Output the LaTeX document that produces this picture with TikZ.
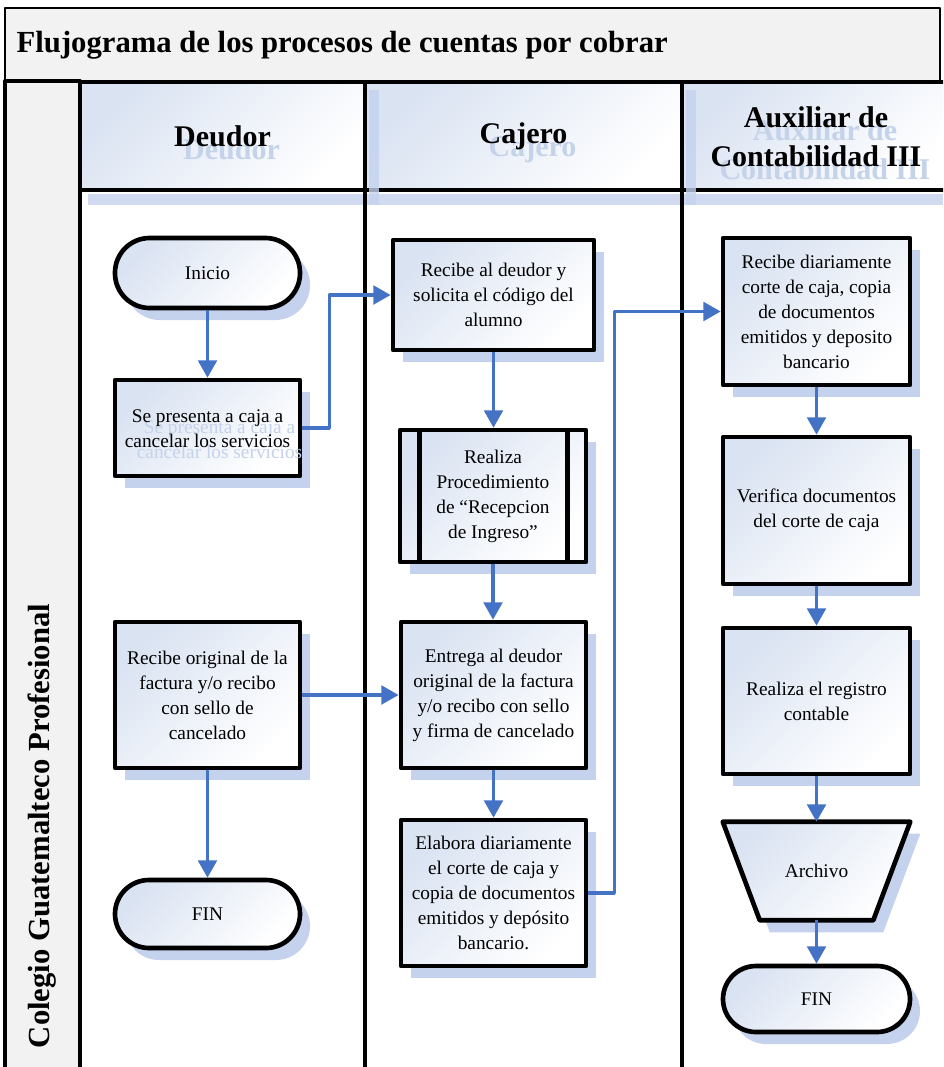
\documentclass[tikz,border=0pt]{standalone}
\usepackage{fontspec}
\setmainfont{Liberation Serif}
\usetikzlibrary{arrows.meta,shapes.geometric,shadows,calc}
\definecolor{flowblue}{RGB}{68,114,196}
\definecolor{tint}{RGB}{218,227,242}
\definecolor{shadowblue}{RGB}{196,210,238}
\definecolor{ghost}{RGB}{196,210,234}
\definecolor{panelgray}{RGB}{242,242,242}
\begin{document}
\begin{tikzpicture}[x=0.75pt,y=-0.75pt,line join=round,
  txt/.style={font=\fontsize{14.5}{18.75}\selectfont,align=center,text=black},
  box/.style={draw=black,line width=3.5pt,top color=tint,bottom color=white,shading angle=45,
    drop shadow={shadow xshift=7.5pt,shadow yshift=-9pt,fill=shadowblue,opacity=1},
    inner sep=0pt,txt},
  term/.style={box,rounded corners=#1},
  flow/.style={draw=flowblue,line width=2.5pt,-{Triangle[width=14pt,length=13pt]}},
  head/.style={draw=black,line width=3pt,top color=tint,bottom color=white,shading angle=45,inner sep=0pt},
  headtxt/.style={font=\fontsize{22.5}{29}\selectfont\bfseries,align=center},
  panel/.style={draw=black,line width=2pt,fill=panelgray},
  lane/.style={draw=black,line width=3pt},
  hshadow/.style={fill=shadowblue,opacity=0.8}]
\useasboundingbox (0,0) rectangle (943,1067);
\clip (0,0) rectangle (943,1067);

% title band and organisation column
\path[panel] (5,8) rectangle (940,81);
\node[anchor=west,font=\fontsize{23}{27}\selectfont\bfseries] (title) at (12,45)
  {Flujograma de los procesos de cuentas por cobrar};
\path[panel,line width=3pt] (5,81) rectangle (80,1080);
\node[rotate=90,font=\fontsize{23}{27}\selectfont\bfseries] (org) at (42,826)
  {Colegio Guatemalteco Profesional};

% lane headers
\node[head,minimum width=213.75pt,minimum height=81pt] (hdeudor) at (222.5,136) {};
\node[head,minimum width=237.75pt,minimum height=81pt] (hcajero) at (523.5,136) {};
\node[head,minimum width=201pt,minimum height=81pt] (haux) at (816,136) {};
\node[headtxt,text=ghost] (gdeudor) at (231.5,149) {Deudor};
\node[headtxt,text=ghost] (gcajero) at (532.5,149) {Cajero};
\node[headtxt,text=ghost] (gaux) at (825,150) {Auxiliar de\\Contabilidad III};
\node[headtxt] (tdeudor) at (222.5,136) {Deudor};
\node[headtxt] (tcajero) at (523.5,136) {Cajero};
\node[headtxt] (taux) at (816,137) {Auxiliar de\\Contabilidad III};

% header shadows
\path[hshadow] (369,90) rectangle (379,205);
\path[hshadow] (686,90) rectangle (696,205);
\path[hshadow] (88,194) rectangle (943,205);

% lane separators
\draw[lane] (80,81) -- (80,1080);
\draw[lane] (365,82) -- (365,1080);
\draw[lane] (682,82) -- (682,1080);

% Deudor
\node[term=26pt,minimum width=138.75pt,minimum height=52.5pt] (inicio) at (207.5,273) {Inicio};
\node[box,minimum width=138.75pt,minimum height=72pt] (presenta) at (207.5,428) {};
\node[txt,text=ghost] (gpresenta) at (219.5,440) {Se presenta a caja a\\cancelar los servicios};
\node[txt] (tpresenta) at (207.5,429) {Se presenta a caja a\\cancelar los servicios};
\node[box,minimum width=138.75pt,minimum height=109.5pt] (recorig) at (207.5,695)
  {Recibe original de la\\factura y/o recibo\\con sello de\\cancelado};
\node[term=25.5pt,minimum width=138.75pt,minimum height=51pt] (fin1) at (207.5,914) {FIN};

% Cajero
\node[box,minimum width=150.75pt,minimum height=82.5pt] (recdeu) at (493.5,295)
  {Recibe al deudor y\\solicita el código del\\alumno};
\node[box,minimum width=139.5pt,minimum height=99pt] (proc) at (493,496)
  {Realiza\\Procedimiento\\de “Recepcion\\de Ingreso”};
\draw[line width=3.5pt] ($(proc.north west)+(22,0)$) -- ($(proc.south west)+(22,0)$);
\draw[line width=3.5pt] ($(proc.north east)+(-21,0)$) -- ($(proc.south east)+(-21,0)$);
\node[box,minimum width=138.75pt,minimum height=109.5pt] (entrega) at (493.5,695)
  {Entrega al deudor\\original de la factura\\y/o recibo con sello\\y firma de cancelado};
\node[box,minimum width=138.75pt,minimum height=109.5pt] (elabora) at (493.5,893)
  {Elabora diariamente\\el corte de caja y\\copia de documentos\\emitidos y depósito\\bancario.};

% Auxiliar de Contabilidad III
\node[box,minimum width=140.25pt,minimum height=110.25pt] (recdia) at (816.5,311.5)
  {Recibe diariamente\\corte de caja, copia\\de documentos\\emitidos y deposito\\bancario};
\node[box,minimum width=140.25pt,minimum height=110.25pt] (verif) at (816.5,510.5)
  {Verifica documentos\\del corte de caja};
\node[box,minimum width=140.25pt,minimum height=109.5pt] (regis) at (816.5,701)
  {Realiza el registro\\contable};
% archive (inverted trapezoid)
\node[inner sep=0pt,minimum width=140.25pt,minimum height=73.5pt] (archivo) at (816.5,871) {};
\path[box] (archivo.north west) -- (archivo.north east)
  -- ($(archivo.south east)+(-37,0)$) -- ($(archivo.south west)+(37,0)$) -- cycle;
\node[txt] (tarchivo) at (archivo.center) {Archivo};
\node[term=24.75pt,minimum width=140.25pt,minimum height=49.5pt] (fin2) at (816.5,999) {FIN};

% flow connectors
\draw[flow] (inicio.south) -- (presenta.north);
\draw[flow] (presenta.east) -- ++(27,0) |- (recdeu.west);
\draw[flow] (recdeu.south) -- (proc.north -| recdeu.south);
\draw[flow] (proc.south) -- (entrega.north -| proc.south);
\draw[flow] (recorig.east) -- (entrega.west);
\draw[flow] (recorig.south) -- (fin1.north);
\draw[flow] (entrega.south) -- (elabora.north);
\draw[flow] (elabora.east) -- ++(26,0) |- (recdia.west);
\draw[flow] (recdia.south) -- (verif.north);
\draw[flow] (verif.south) -- (regis.north);
\draw[flow] (regis.south) -- (archivo.north);
\draw[flow] (archivo.south) -- (fin2.north);
\end{tikzpicture}
\end{document}
